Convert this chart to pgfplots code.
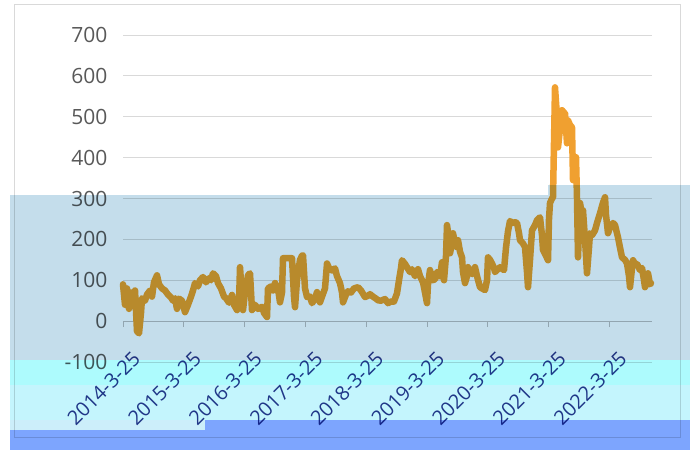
\documentclass[border=0pt]{standalone}
\usepackage{pgfplots}
\pgfplotsset{compat=1.18}
\usepackage{fontspec}
\setmainfont{Open Sans}
\definecolor{lineor}{HTML}{F0A030}
\definecolor{gridc}{HTML}{D9D9D9}
\definecolor{axc}{HTML}{BFBFBF}
\definecolor{tickc}{HTML}{595959}
\definecolor{xlabc}{HTML}{2A3A8A}
\definecolor{band}{HTML}{C4DDEB}
\definecolor{cyanA}{HTML}{ADFBFD}
\definecolor{cyanB}{HTML}{C4F5FD}
\definecolor{cyanC}{HTML}{CCEEFA}
\definecolor{blueB}{HTML}{7DA5FE}
\definecolor{frame}{HTML}{D9D9D9}
\pgfplotstableread{
x y
123 90
125 40
127 80
129 30
131 70
133 60
135 75
137 -25
139 -30
141 20
142 56
145 50
147 65
150 75
152 60
154 95
157 112
159 90
162 80
165 75
168 65
171 58
173 50
175 56
177 30
179 55
182 50
185 22
188 40
191 60
193 75
195 93
198 85
200 100
203 108
206 95
209 105
211 100
213 117
216 110
218 93
221 80
224 60
226 56
229 45
232 64
234 40
237 27
239 45
240 132
242 60
243 27
245 70
248 112
250 117
252 27
255 40
258 30
262 35
264 20
267 10
268 80
271 85
273 75
275 93
278 80
280 46
282 70
283 154
286 154
289 154
292 154
294 60
295 34
297 100
300 150
302 160
303 161
305 80
307 59
310 60
312 44
315 55
317 71
320 46
322 60
325 80
327 141
329 130
332 124
335 129
337 110
340 93
342 70
343 46
346 65
348 73
351 70
354 80
358 83
361 75
365 59
368 62
370 66
373 60
376 55
378 51
381 50
385 54
388 44
391 48
394 48
397 68
399 100
401 130
402 149
405 140
407 132
410 120
412 127
415 110
418 127
420 110
423 95
425 70
427 44
428 90
430 125
432 100
435 102
437 120
440 110
442 144
444 100
446 160
447 235
449 200
450 166
452 190
453 215
455 190
457 181
458 198
460 170
462 156
463 120
465 93
467 110
468 132
470 120
472 115
474 125
475 132
477 110
480 83
482 80
485 76
487 100
488 156
490 150
492 141
494 130
495 120
497 125
500 132
502 128
504 125
506 180
508 220
510 245
512 240
515 242
517 240
519 215
520 198
523 190
525 181
527 120
528 83
530 150
532 222
535 235
537 247
540 254
542 210
543 174
546 160
548 149
549 250
550 289
552 300
553 303
555 572
557 500
558 425
560 470
562 516
564 510
565 509
567 435
568 491
570 480
572 474
573 345
575 380
576 401
577 300
578 156
580 289
582 260
583 271
585 200
587 117
589 180
590 215
592 210
595 222
597 240
600 264
603 290
605 303
606 260
608 215
610 230
613 240
615 235
618 205
620 180
622 156
625 150
627 141
629 110
630 83
632 130
633 149
635 140
637 140
640 125
642 130
644 100
645 83
647 100
648 117
650 90
651 93
}\datatable
\begin{document}
\begin{tikzpicture}[x=1pt,y=1pt]
\path (0,0) rectangle (690,450);
\draw[frame, line width=1pt] (14,445) -- (680,445) -- (680,13) -- (14,13) -- cycle;
\begin{axis}[
  at={(123pt,88pt)}, anchor=south west,
  scale only axis, width=529pt, height=327pt,
  xmin=123, xmax=652, ymin=-100, ymax=700,
  axis x line=middle, axis y line=left,
  x axis line style={-, axc, line width=1pt},
  y axis line style={draw=none},
  hide obscured x ticks=false,
  ytick={-100,0,...,700},
  ymajorgrids, grid style={gridc, line width=1pt},
  ytick style={draw=none},
  xtick={123,183.8,244.6,305.4,366.2,427,487.8,548.6,609.4},
  xticklabels={2014-3-25,2015-3-25,2016-3-25,2017-3-25,2018-3-25,2019-3-25,2020-3-25,2021-3-25,2022-3-25},
  tick align=outside, major tick length=6pt,
  xtick style={axc, line width=1pt},
  yticklabel style={font=\fontsize{21}{24}\selectfont, text=tickc, xshift=-6pt},
  xticklabel style={font=\fontsize{20}{23}\selectfont, text=xlabc, xshift=16pt, yshift=-26pt, rotate=45, anchor=east},
  /pgf/number format/assume math mode=true,
  clip=false,
]
\addplot[lineor, line width=6.5pt, line join=round, line cap=round] table[x=x,y=y] {\datatable};
\end{axis}
\begin{scope}[blend mode=multiply]
\fill[band] (10,90) rectangle (690,255);
\fill[band] (548,255) rectangle (690,265);
\fill[cyanA] (10,65) rectangle (690,90);
\fill[cyanB] (10,30) rectangle (690,65);
\fill[blueB] (205,0) rectangle (690,30);
\fill[cyanC] (10,20) rectangle (205,30);
\fill[blueB] (10,0) rectangle (205,20);
\end{scope}
\end{tikzpicture}
\end{document}
